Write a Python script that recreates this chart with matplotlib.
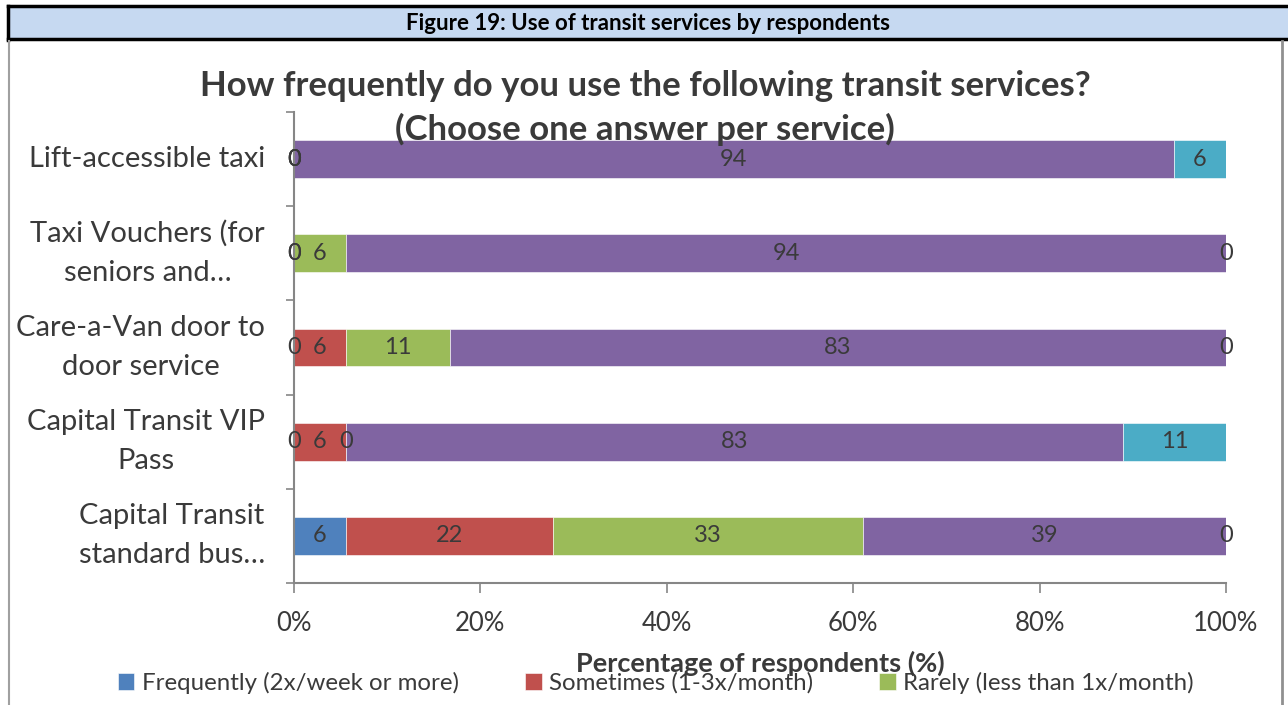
import matplotlib
matplotlib.use('Agg')
import matplotlib.pyplot as plt
from matplotlib.patches import Rectangle
from matplotlib.lines import Line2D
import numpy as np

plt.rcParams['font.family'] = ['Lato', 'DejaVu Sans']

categories = ["Lift-accessible taxi",
              "Taxi Vouchers (for\nseniors and\u2026",
              "Care-a-Van door to\ndoor service",
              "Capital Transit VIP\nPass",
              "Capital Transit\nstandard bus\u2026"]
series_names = ["Frequently (2x/week or more)", "Sometimes (1-3x/month)",
                "Rarely (less than 1x/month)", "Never", "Not aware of this service"]
frequently = [0, 0, 0, 0, 5.6]
sometimes = [0, 0, 5.6, 5.6, 22.2]
rarely = [0, 5.6, 11.1, 0, 33.3]
never = [94.4, 94.4, 83.3, 83.3, 38.9]
not_aware = [5.6, 0, 0, 11.1, 0]
colors = ['#4F81BD', '#C0504D', '#9BBB59', '#8064A2', '#4BACC6']

txt = '#3A3A3A'
W, H = 1288, 705
fig = plt.figure(figsize=(W / 100, H / 100), dpi=100)

# frame and header band
fig.patches.append(Rectangle((8 / W, 1 - 40 / H), 1.1, 34 / H, transform=fig.transFigure,
                             facecolor='#C6D9F1', edgecolor='none'))
fig.add_artist(Line2D([8 / W, 1], [1 - 6 / H] * 2, color='black', lw=2.5))
fig.add_artist(Line2D([8 / W, 1], [1 - 39 / H] * 2, color='black', lw=2.5))
fig.add_artist(Line2D([8 / W] * 2, [1 - 6 / H, 1 - 40 / H], color='black', lw=2.5))
fig.add_artist(Line2D([9 / W] * 2, [1 - 41 / H, 0], color='#A0A0A0', lw=1.5))
fig.add_artist(Line2D([1282 / W] * 2, [1 - 41 / H, 0], color='#909090', lw=2))
fig.text(648 / W, 1 - 23 / H, "Figure 19: Use of transit services by respondents",
         ha='center', va='center', fontsize=16, fontweight='bold', color='black')

ax = fig.add_axes([294 / W, 1 - 583 / H, (1226 - 294) / W, (583 - 112) / H])
data = [frequently, sometimes, rarely, never, not_aware]
y = np.arange(len(categories))[::-1]
left = np.zeros(len(categories))
for vals, name, c in zip(data, series_names, colors):
    vals = np.array(vals)
    ax.barh(y, vals, left=left, height=0.4, color=c, edgecolor='white', linewidth=0.4,
            label=name)
    for yi, l, v in zip(y, left, vals):
        ax.text(l + v / 2, yi, f"{round(v)}", ha='center', va='center',
                fontsize=17, color=txt)
    left += vals

ax.set_xlim(0, 100)
ax.set_ylim(-0.5, len(categories) - 0.5)
ax.set_xticks(np.arange(0, 101, 20))
ax.set_xticklabels([f"{v}%" for v in range(0, 101, 20)])
ax.set_yticks(y)
ax.set_yticklabels(categories, multialignment='center', linespacing=1.62, va='center')
ax.set_yticks(np.arange(-0.5, len(categories), 1), minor=True)
ax.tick_params(axis='y', which='major', length=0, pad=21, labelsize=21, labelcolor=txt)
ax.tick_params(axis='y', which='minor', length=6, color='#868686', width=1.2)
ax.tick_params(axis='x', length=7, color='#868686', width=1.2, pad=13,
               labelsize=18.5, labelcolor=txt)
for s in ['top', 'right']:
    ax.spines[s].set_visible(False)
for s in ['left', 'bottom']:
    ax.spines[s].set_color('#868686')
    ax.spines[s].set_linewidth(1.5)

fig.text(645 / W, 1 - 108 / H,
         "How frequently do you use the following transit services?\n(Choose one answer per service)",
         ha='center', va='center', fontsize=25, fontweight='bold', color=txt, linespacing=1.4)
fig.text(760 / W, 1 - 663 / H, "Percentage of respondents (%)", ha='center', va='center',
         fontsize=19.5, fontweight='bold', color=txt)

handles, labels = ax.get_legend_handles_labels()
fig.legend(handles[:3], labels[:3], loc='center left', bbox_to_anchor=(96 / W, 1 - 683 / H),
           ncol=3, frameon=False, fontsize=17.3, handlelength=0.7, handleheight=0.7,
           handletextpad=0.3, columnspacing=2.75, labelcolor=txt)

fig.savefig('out.png', dpi=100)
